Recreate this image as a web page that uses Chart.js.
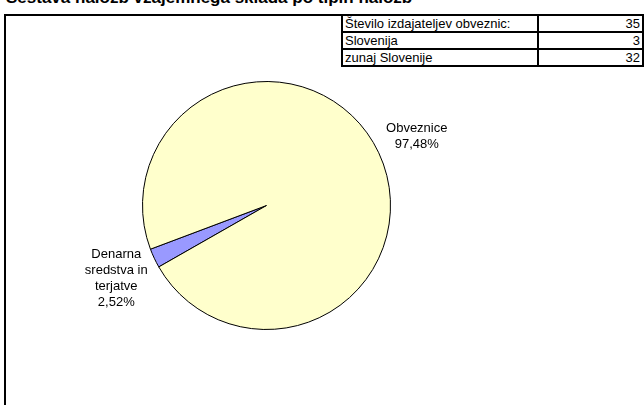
<!DOCTYPE html>
<html lang="sl">
<head>
    <meta charset="UTF-8">
    <title>Sestava naložb</title>
    <script src="https://cdn.jsdelivr.net/npm/chart.js"></script>
    <style>
        body { margin: 0; background: #fff; font-family: "Liberation Sans", Arial, sans-serif; }
        #wrap { position: relative; width: 644px; height: 405px; overflow: hidden; }
        #title { position: absolute; left: 6px; top: -12px; font-size: 17px; font-weight: bold; white-space: nowrap; line-height: 19px; }
        #frame { position: absolute; left: 4px; top: 14px; width: 700px; height: 500px; border: 2px solid #000; box-sizing: border-box; }
        #stats { position: absolute; left: 341px; top: 14px; border-collapse: collapse; font-size: 13px; }
        #stats td { border: 2px solid #000; height: 15px; padding: 0 2px; line-height: 15px; }
        #stats td.num { text-align: right; width: 101px; }
        #stats td.lbl { width: 192px; }
        canvas { position: absolute; left: 0; top: 0; }
    </style>
</head>
<body>
<div id="wrap">
    <div id="title"></div>
    <div id="frame"></div>
    <table id="stats"></table>
    <canvas id="pie" width="644" height="405"></canvas>
</div>
<script>
    // chart data
    const title = 'Sestava naložb vzajemnega sklada po tipih naložb';
    const categories = [['Denarna', 'sredstva in', 'terjatve'], ['Obveznice']];
    const shares = [2.52, 97.48];
    const colors = ['#9999FF', '#FFFFCC'];

    // issuer table
    const tableLabels = ['Število izdajateljev obveznic:', 'Slovenija', 'zunaj Slovenije'];
    const tableValues = [35, 3, 32];

    document.getElementById('title').textContent = title;
    const tbl = document.getElementById('stats');
    tableLabels.forEach((lab, i) => {
        const tr = document.createElement('tr');
        tr.innerHTML = '<td class="lbl"></td><td class="num"></td>';
        tr.children[0].textContent = lab;
        tr.children[1].textContent = tableValues[i];
        tbl.appendChild(tr);
    });

    // labels outside the slices, like excel
    const outsideLabels = {
        id: 'outsideLabels',
        afterDatasetsDraw(chart) {
            const ctx = chart.ctx;
            const meta = chart.getDatasetMeta(0);
            ctx.save();
            ctx.font = '13px "Liberation Sans", Arial, sans-serif';
            ctx.fillStyle = '#000';
            ctx.textAlign = 'center';
            ctx.textBaseline = 'middle';
            meta.data.forEach((arc, i) => {
                const mid = (arc.startAngle + arc.endAngle) / 2;
                const r = arc.outerRadius + 42;
                const x = arc.x + Math.cos(mid) * r;
                const y = arc.y + Math.sin(mid) * r + 2;
                const lines = categories[i].concat([shares[i].toFixed(2).replace('.', ',') + '%']);
                const lh = 16;
                const y0 = y - (lines.length - 1) * lh / 2;
                lines.forEach((t, k) => ctx.fillText(t, x, y0 + k * lh));
            });
            ctx.restore();
        }
    };

    new Chart(document.getElementById('pie'), {
        type: 'pie',
        data: {
            labels: categories.map(c => c.join(' ')),
            datasets: [{
                data: shares,
                backgroundColor: colors,
                borderColor: '#000',
                borderWidth: 1
            }]
        },
        options: {
            responsive: false,
            animation: false,
            rotation: 240.3,
            layout: { padding: { left: 142, right: 253, top: 81, bottom: 75 } },
            plugins: {
                legend: { display: false },
                tooltip: { enabled: false }
            }
        },
        plugins: [outsideLabels]
    });
</script>
</body>
</html>
